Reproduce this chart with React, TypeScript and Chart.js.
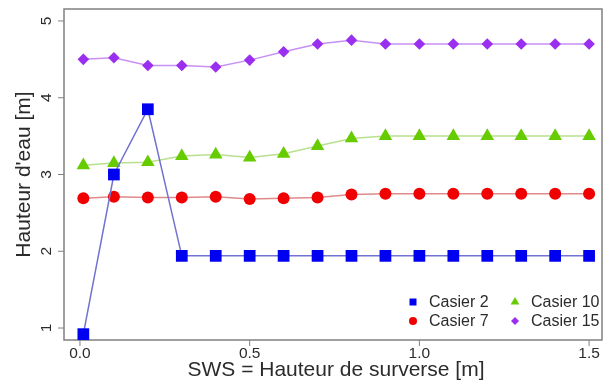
import React, { useEffect, useRef } from 'react';
import { Chart, registerables } from 'chart.js';

Chart.register(...registerables);

const xValues = [0.01, 0.1, 0.2, 0.3, 0.4, 0.5, 0.6, 0.7, 0.8, 0.9, 1.0, 1.1, 1.2, 1.3, 1.4, 1.5];
const casier2 = [0.92, 3.0, 3.85, 1.94, 1.94, 1.94, 1.94, 1.94, 1.94, 1.94, 1.94, 1.94, 1.94, 1.94, 1.94, 1.94];
const casier7 = [2.69, 2.71, 2.7, 2.7, 2.71, 2.68, 2.69, 2.7, 2.74, 2.75, 2.75, 2.75, 2.75, 2.75, 2.75, 2.75];
const casier10 = [3.12, 3.15, 3.16, 3.24, 3.26, 3.22, 3.27, 3.37, 3.47, 3.5, 3.5, 3.5, 3.5, 3.5, 3.5, 3.5];
const casier15 = [4.5, 4.52, 4.42, 4.42, 4.4, 4.49, 4.6, 4.7, 4.75, 4.7, 4.7, 4.7, 4.7, 4.7, 4.7, 4.7];
const seriesLabels = ['Casier 2', 'Casier 7', 'Casier 10', 'Casier 15'];
const xTicks = [0, 0.5, 1.0, 1.5];
const xTickLabels = ['0.0', '0.5', '1.0', '1.5'];
const yTicks = [1, 2, 3, 4, 5];
const yTickLabels = ['1', '2', '3', '4', '5'];
const xTitle = 'SWS = Hauteur de surverse [m]';
const yTitle = "Hauteur d'eau [m]";

const FONT = '"Liberation Sans", Arial, sans-serif';
const TEXT = '#2b2b2b';
const FRAME = '#808080';

const markerColors = ['#0000f0', '#f00000', '#66cc00', '#9a2ff0'];
const lineColors = ['#7272d2', '#e08a8a', '#b9e08f', '#c890f2'];
const pointStyles = ['rect', 'circle', 'triangle', 'rectRot'];
const pointRadii = [8.3, 6, 7.8, 5.8];

function toPoints(ys: number[]) {
  return ys.map((y, i) => ({ x: xValues[i], y }));
}

function drawLegendMarker(ctx: CanvasRenderingContext2D, style: string, x: number, y: number, color: string) {
  ctx.fillStyle = color;
  ctx.beginPath();
  if (style === 'rect') {
    ctx.rect(x - 3.5, y - 3.5, 7, 7);
  } else if (style === 'circle') {
    ctx.arc(x, y, 4, 0, Math.PI * 2);
  } else if (style === 'triangle') {
    const r = 5;
    ctx.moveTo(x, y - r);
    ctx.lineTo(x + r * 0.866, y + r * 0.5);
    ctx.lineTo(x - r * 0.866, y + r * 0.5);
    ctx.closePath();
  } else {
    const r = 4;
    ctx.moveTo(x, y - r);
    ctx.lineTo(x + r, y);
    ctx.lineTo(x, y + r);
    ctx.lineTo(x - r, y);
    ctx.closePath();
  }
  ctx.fill();
}

const framePlugin = {
  id: 'rframe',
  beforeDatasetsDraw(chart: any) {
    const { ctx, chartArea: a, scales } = chart;
    ctx.save();
    ctx.strokeStyle = FRAME;
    ctx.lineWidth = 1.5;
    ctx.strokeRect(a.left, a.top, a.right - a.left, a.bottom - a.top);
    ctx.lineWidth = 1;
    ctx.fillStyle = TEXT;
    ctx.font = `15.5px ${FONT}`;
    ctx.textAlign = 'center';
    ctx.textBaseline = 'middle';
    xTicks.forEach((v, i) => {
      const px = scales.x.getPixelForValue(v);
      ctx.beginPath();
      ctx.moveTo(px, a.bottom);
      ctx.lineTo(px, a.bottom + 6);
      ctx.stroke();
      ctx.fillText(xTickLabels[i], px, a.bottom + 14);
    });
    yTicks.forEach((v, i) => {
      const py = scales.y.getPixelForValue(v);
      ctx.beginPath();
      ctx.moveTo(a.left, py);
      ctx.lineTo(a.left - 6, py);
      ctx.stroke();
      ctx.save();
      ctx.translate(a.left - 17, py);
      ctx.rotate(-Math.PI / 2);
      ctx.fillText(yTickLabels[i], 0, 0);
      ctx.restore();
    });
    ctx.font = `21px ${FONT}`;
    ctx.fillText(xTitle, (a.left + a.right) / 2 + 3, a.bottom + 30);
    ctx.save();
    ctx.translate(24, (a.top + a.bottom) / 2);
    ctx.rotate(-Math.PI / 2);
    ctx.fillText(yTitle, 0, 0);
    ctx.restore();
    ctx.restore();
  },
  afterDraw(chart: any) {
    const { ctx, chartArea: a } = chart;
    ctx.save();
    ctx.font = `16px ${FONT}`;
    ctx.textAlign = 'left';
    ctx.textBaseline = 'middle';
    const colX = [a.right - 189, a.right - 87];
    const rowY = [a.bottom - 38, a.bottom - 19];
    chart.data.datasets.forEach((ds: any, i: number) => {
      const col = Math.floor(i / 2);
      const row = i % 2;
      const mx = colX[col];
      const my = rowY[row];
      drawLegendMarker(ctx, pointStyles[i], mx, my, markerColors[i]);
      ctx.fillStyle = TEXT;
      ctx.fillText(ds.label, mx + 16, my + 1);
    });
    ctx.restore();
  },
};

export default function App() {
  const ref = useRef<HTMLCanvasElement | null>(null);
  useEffect(() => {
    if (!ref.current) return;
    const series = [casier2, casier7, casier10, casier15];
    const chart = new Chart(ref.current, {
      type: 'line',
      data: {
        datasets: series.map((ys, i) => ({
          label: seriesLabels[i],
          data: toPoints(ys),
          borderColor: lineColors[i],
          borderWidth: 1.5,
          backgroundColor: markerColors[i],
          pointBackgroundColor: markerColors[i],
          pointBorderColor: markerColors[i],
          pointBorderWidth: 0,
          pointStyle: pointStyles[i] as any,
          pointRadius: pointRadii[i],
          pointHoverRadius: pointRadii[i],
          tension: 0,
          fill: false,
          clip: false as any,
        })),
      },
      options: {
        animation: false,
        responsive: false,
        maintainAspectRatio: false,
        events: [],
        layout: { padding: { left: 64, right: 10, top: 9, bottom: 45 } },
        plugins: { legend: { display: false }, tooltip: { enabled: false } },
        scales: {
          x: { type: 'linear', min: -0.047, max: 1.538, display: false },
          y: { type: 'linear', min: 0.844, max: 5.156, display: false },
        },
      },
      plugins: [framePlugin],
    });
    return () => chart.destroy();
  }, []);
  return (
    <div style={{ position: 'fixed', left: 0, top: 0, width: 612, height: 385, background: '#fff' }}>
      <canvas ref={ref} width={612} height={385} />
    </div>
  );
}
